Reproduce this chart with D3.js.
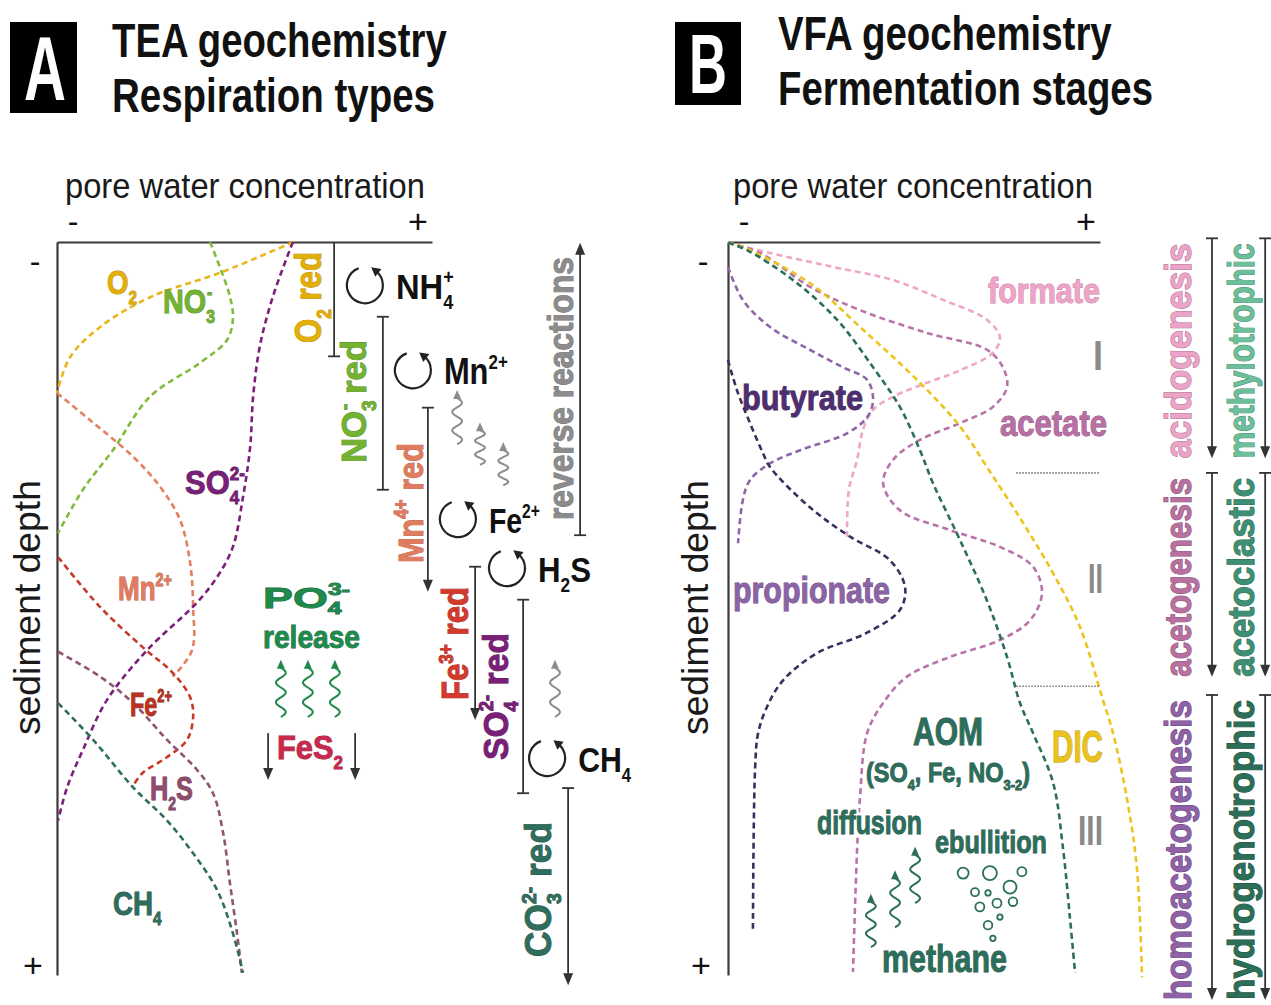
<!DOCTYPE html>
<html><head><meta charset="utf-8">
<script src="https://cdn.jsdelivr.net/npm/d3@7"></script>
<style>body{margin:0;background:#fff}svg{display:block}</style>
</head><body>
<script>
// ================= DATA =================
// Panel A: pore-water profiles, [concentration 0..100, depth 0..100]
const o2Profile  = [[63,0],[44,4.1],[25,7.5],[11.5,11.6],[3.5,15.7],[0,20.6]];
const no3Profile = [[40.8,0],[46.1,7.4],[46.9,10.6],[45.3,13.4],[38.1,16.5],[24.8,21.1],[14.9,28.4],[6.9,33.8],[0.3,39.7]];
const mnProfile  = [[0,20.6],[8.8,24.3],[20.3,29.3],[27.5,33.4],[32.8,37.9],[35.5,43.8],[36.3,49.8],[36,55.7],[30.9,59.3]];
const feProfile  = [[0.3,43],[11.5,49.8],[22.9,55.3],[30.9,58.8],[35.5,62.1],[36.3,64.8],[34.7,67.9],[29.3,70.3],[22.9,72.4],[20,74.4]];
const so4Profile = [[62.9,0],[57.6,7.4],[54.1,14.2],[52.3,21.1],[51.5,28],[49.6,34.8],[46.9,41.6],[42.7,45.7],[37.3,49.2],[24,55.7],[13.3,62.5],[6.9,69.3],[2.7,74.4],[0.3,78.9]];
const h2sProfile = [[0.3,55.9],[11.5,59.3],[20.3,62.9],[29.3,67.9],[37.3,72],[41.6,75.2],[44.3,80.6],[46.1,87.4],[48,94.3],[49.3,99.7]];
const ch4Profile = [[0.3,62.9],[9.6,67.9],[20.3,74.4],[29.3,78.9],[36.3,83.4],[42.7,88.4],[46.9,94.3],[49.6,99.7]];

// Panel A: respiration zones (x in concentration units, depth extents)
const zoneNames  = ["O2 red","NO3- red","Mn4+ red","Fe3+ red","SO42- red","CO32- red"];
const zoneConc   = [73.9, 86.9, 98.9, 111.5, 124.3, 136.3];
const zoneTop    = [0, 10.2, 22.6, 44.3, 48.8, 74.5];
const zoneBottom = [15.6, 33.8, 47.7, 65.2, 75.2, 101.4];
const zoneEnd    = ["cap","cap","arrow","arrow","cap","arrow"];
const reverseConc = 139.5, reverseTop = 0.1, reverseBottom = 40;

// Panel A: cycling products
const cycleNames = ["NH4+","Mn2+","Fe2+","H2S","CH4"];
const cycleConc  = [82.1, 94.9, 106.9, 120, 130.7];
const cycleDepth = [5.9, 17.5, 37.8, 44.5, 70.4];

// Panel A: upward fluxes (squiggles) [conc, depth bottom, depth top]
const greyFluxA  = [[106.7,27.6,20.2],[112.8,30.4,24.6],[119,33.2,27.3],[132.8,64.8,57]];
const greenFluxA = [[59.7,64.8,57],[66.9,64.8,57],[74.1,64.8,57]];
const fesArrowConc = [56.3, 79.5], fesArrowDepth = [67, 73.4];

// Panel B: VFA profiles
const formateProfile = [[0,0.1],[11.3,1.5],[28.2,3.4],[44.4,5.2],[57.8,7.9],[69.6,10.6],[73.1,13],[71.2,15.1],[62.4,17.5],[53.5,19.2],[44.4,21.1],[39,22.9],[36.3,25.6],[34.7,29.7],[32.5,33.8],[32,40.2]];
const acetateProfile = [[0,0.1],[8.6,1.5],[22,6.1],[35.5,9.3],[53.5,12.4],[69.6,14.7],[73.9,17.1],[75,19.8],[71.2,22.5],[62.4,24.7],[51.6,27],[44.4,29.7],[41.7,32.9],[46.2,36.6],[59.7,39.3],[73.1,41.6],[82,44.3],[84.4,47.9],[81.2,51.6],[73.1,54.3],[59.7,56.6],[48.1,59.3],[41.7,62.9],[37.4,67],[35.5,75.7],[34.7,82.9],[33.6,99.6]];
const dicProfile = [[0,0.1],[4,0.7],[22,5.6],[35.5,11.6],[51.6,19.2],[62.4,25.2],[69.6,30.7],[79.3,38.3],[87.4,45.2],[94.6,52.5],[100.8,62.5],[103.5,67],[107.3,76.1],[109.9,85.3],[111.3,100.3]];
const methaneProfile = [[0,0.1],[5.1,1.1],[17.5,5.2],[29.3,10.6],[39,17.1],[46.2,22.5],[51.6,28.4],[55.1,32.9],[62.4,40.7],[69.6,48.9],[75,56.6],[78.5,62.9],[82,67],[87.4,73.8],[90.1,82.9],[91.9,92.1],[93.3,99.7]];
const propionateProfile = [[0,3.4],[4,7.9],[11.3,11.6],[22,14.7],[30.9,17.1],[37.4,18.8],[39,21.6],[37.4,23.9],[32,26.1],[19.4,28.4],[11.3,30.2],[5.9,32.5],[4,35.2],[2.7,41.1]];
const butyrateProfile = [[0,16.1],[2.4,20.2],[5.9,24.7],[9.4,28.8],[11.3,30.7],[22,36.2],[32.8,40.2],[43.5,43.4],[47.6,47.1],[46.2,50.2],[37.4,53.3],[23.9,56.1],[14.8,59.8],[10.5,63.4],[8.1,67],[7.3,71.6],[6.7,93.9]];

// Panel B: stages
const stageNumerals = ["I","II","III"];
const stageBounds = [[-0.5,29.5],[31.5,59.3],[61.8,103.4]];
const stageSeparators = [31.5, 60.6];
const fermentationStages = ["acidogenesis","acetogenesis","homoacetogenesis"];
const methanogenesisTypes = ["methylotrophic","acetoclastic","hydrogenotrophic"];
const stageArrowConc = [130.1, 144.4];

// Panel B: methane transport
const methaneFlux = [[38.4,96.2,88.9],[44.9,93.5,85.7],[50.3,90.2,82.5]];
const bubbleConc  = [63.2,70.4,79,75.8,66.4,69.9,67.7,72.3,76.6,73.1,69.9,71.2];
const bubbleDepth = [86.1,86.1,85.9,88,88.7,88.8,90.7,90.2,90,92.1,93.2,95];
const bubbleSize  = [5.5,7,4.5,6.5,4,2.7,4.5,4.5,4.3,2.7,4.3,2.7];

// Tick labels & titles
const concTicks = ["-","+"];
const depthTicks = ["-","+"];
const titlesA = ["TEA geochemistry","Respiration types"];
const titlesB = ["VFA geochemistry","Fermentation stages"];

// ================= DRAW =================
const W = 1271, H = 1005;
const svg = d3.select("body").append("svg").attr("width", W).attr("height", H);
const FONT = "'Liberation Sans', Arial, sans-serif";

const xA = d3.scaleLinear([0,100],[57,432]);
const yA = d3.scaleLinear([0,100],[242,975]);
const xB = d3.scaleLinear([0,100],[728,1100]);
const yB = yA.copy();

function label(parent, o) {
  const g = parent.append("g").attr("transform", `translate(${o.x},${o.y}) rotate(${o.rot||0})`);
  const inner = g.append("g");
  const make = (halo) => {
    const t = inner.append("text")
      .attr("font-family", FONT)
      .attr("font-weight", o.weight || "bold")
      .attr("font-size", o.size)
      .attr("fill", halo ? "#fff" : (o.fill || "#111"));
    if (halo) t.attr("stroke", "#fff").attr("stroke-width", 7).attr("stroke-linejoin","round");
    else if (o.stroke) t.attr("stroke", o.stroke).attr("stroke-width", o.sw || 0.9).attr("paint-order", "stroke");
    let shift = 0;
    o.parts.forEach(p => {
      const arr = typeof p === "string" ? [p] : p;
      const [s, mode, dx] = arr;
      const ts = t.append("tspan").text(s);
      let target = 0;
      if (mode === "sub") { target = o.size * (o.subShift || 0.28); ts.attr("font-size", o.size * 0.55); }
      else if (mode === "sup") { target = -o.size * 0.42; ts.attr("font-size", o.size * 0.55); }
      ts.attr("dy", target - shift); shift = target;
      if (dx) ts.attr("dx", dx * o.size);
    });
    return t;
  };
  if (o.halo) make(true);
  const t = make(false);
  const bb = t.node().getBBox();
  const k = o.w ? o.w / bb.width : 1;
  const ax = o.anchor === "middle" ? bb.x + bb.width/2 : o.anchor === "end" ? bb.x + bb.width : bb.x;
  inner.attr("transform", `scale(${k},1) translate(${-ax},0)`);
  return g;
}

function profile(g, data, xs, ys, color) {
  g.append("path")
    .attr("d", d3.line().x(d => xs(d[0])).y(d => ys(d[1])).curve(d3.curveCatmullRom.alpha(0.5))(data))
    .attr("fill","none").attr("stroke",color).attr("stroke-width",2.6)
    .attr("stroke-dasharray","6,4");
}

function arrowHead(g, x, y, dir, color, size) {
  const s = size || 1;
  const dy = dir === "down" ? -1 : 1;
  g.append("path")
    .attr("d", `M${x},${y} L${x-5*s},${y+dy*12*s} L${x+5*s},${y+dy*12*s} Z`)
    .attr("fill", color || "#222");
}

function bar(g, x, y0, y1, topEnd, botEnd) {
  const col = "#333";
  g.append("line").attr("x1",x).attr("x2",x)
    .attr("y1", topEnd === "arrow" ? y0 + 8 : y0)
    .attr("y2", botEnd === "arrow" ? y1 - 8 : y1)
    .attr("stroke",col).attr("stroke-width",1.8);
  if (topEnd === "cap") g.append("line").attr("x1",x-6).attr("x2",x+6).attr("y1",y0).attr("y2",y0).attr("stroke",col).attr("stroke-width",1.8);
  if (botEnd === "cap") g.append("line").attr("x1",x-6).attr("x2",x+6).attr("y1",y1).attr("y2",y1).attr("stroke",col).attr("stroke-width",1.8);
  if (topEnd === "arrow") arrowHead(g, x, y0, "up", col);
  if (botEnd === "arrow") arrowHead(g, x, y1, "down", col);
}

function cycleIcon(g, cx, cy, r) {
  const a0 = -110 * Math.PI/180, a1 = -52 * Math.PI/180;
  const p0 = [cx + r*Math.cos(a0), cy + r*Math.sin(a0)];
  const p1 = [cx + r*Math.cos(a1), cy + r*Math.sin(a1)];
  g.append("path").attr("d", `M${p0[0]},${p0[1]} A${r},${r} 0 1 0 ${p1[0]},${p1[1]}`)
    .attr("fill","none").attr("stroke","#222").attr("stroke-width",2.2);
  const u = [Math.sin(a1), -Math.cos(a1)];
  const n = [-u[1], u[0]];
  const tip = [p1[0] + u[0]*6, p1[1] + u[1]*6];
  const b1 = [p1[0] - u[0]*3 + n[0]*5, p1[1] - u[1]*3 + n[1]*5];
  const b2 = [p1[0] - u[0]*3 - n[0]*5, p1[1] - u[1]*3 - n[1]*5];
  g.append("path").attr("d", `M${tip} L${b1} L${b2} Z`).attr("fill","#222");
}

function squiggle(g, x, yBot, yTop, color) {
  const L = yBot - yTop - 8, amp = 5, periods = 2.5, n = 50;
  const pts = d3.range(n + 1).map(i => {
    const t = i / n;
    return [x + amp * Math.sin(t * periods * 2 * Math.PI), yBot - t * L];
  });
  g.append("path").attr("d", d3.line().curve(d3.curveBasis)(pts))
    .attr("fill","none").attr("stroke",color).attr("stroke-width",2);
  g.append("path").attr("d", `M${x},${yTop} L${x-4},${yTop+9} L${x+4},${yTop+9} Z`).attr("fill",color);
}

// ---------- Titles ----------
const gT = svg.append("g");
gT.append("rect").attr("x",10).attr("y",22).attr("width",67).attr("height",91).attr("fill","#000");
label(gT, {x:45, y:100, w:42, size:90, fill:"#fff", anchor:"middle", parts:["A"]});
label(gT, {x:112, y:57, w:335, size:48, parts:[titlesA[0]]});
label(gT, {x:112, y:112, w:323, size:48, parts:[titlesA[1]]});
gT.append("rect").attr("x",675).attr("y",22).attr("width",66).attr("height",83).attr("fill","#000");
label(gT, {x:708, y:93, w:38, size:84, fill:"#fff", anchor:"middle", parts:["B"]});
label(gT, {x:778, y:50, w:334, size:48, parts:[titlesB[0]]});
label(gT, {x:778, y:105, w:375, size:48, parts:[titlesB[1]]});

// ---------- Axes ----------
function axes(xs, ys, txtLeft, g, textOffset) {
  const top = g.append("g").attr("transform", `translate(0,${ys(0)})`)
    .call(d3.axisTop(xs).tickValues([]).tickSizeOuter(0));
  const left = g.append("g").attr("transform", `translate(${xs(0)},0)`)
    .call(d3.axisLeft(ys).tickValues([]).tickSizeOuter(0));
  [top, left].forEach(a => a.select(".domain").attr("stroke","#3a3a3a").attr("stroke-width",2.2));
  label(g, {x: xs(0) + textOffset, y:198, w:360, size:35, weight:"normal", fill:"#1a1a1a", parts:["pore water concentration"]});
  label(g, {x: xs(0) + 16, y:232, size:32, weight:"normal", anchor:"middle", parts:[concTicks[0]]});
  label(g, {x: xs(100) - 14, y:233, size:34, weight:"normal", anchor:"middle", parts:[concTicks[1]]});
  label(g, {x: txtLeft + 2, y:272, size:32, weight:"normal", anchor:"middle", parts:[depthTicks[0]]});
  label(g, {x: txtLeft, y:977, size:34, weight:"normal", anchor:"middle", parts:[depthTicks[1]]});
  label(g, {x: txtLeft + 7, y:735, w:255, size:36, rot:-90, weight:"normal", fill:"#1a1a1a", parts:["sediment depth"]});
}

// ---------- Panel A ----------
const gA = svg.append("g");
axes(xA, yA, 33, gA, 8);
profile(gA, o2Profile, xA, yA, "#e9b51c");
profile(gA, no3Profile, xA, yA, "#82bb3c");
profile(gA, mnProfile, xA, yA, "#e3805f");
profile(gA, feProfile, xA, yA, "#c63a2a");
profile(gA, so4Profile, xA, yA, "#7b1f79");
profile(gA, h2sProfile, xA, yA, "#8f5373");
profile(gA, ch4Profile, xA, yA, "#2f6e5c");

label(gA, {x:107, y:294, w:30, size:34, fill:"#e2ae08", stroke:"#b88a00", parts:["O",["2","sub"]]});
label(gA, {x:163, y:313, w:52, size:34, fill:"#74b232", stroke:"#4f8a1c", parts:["NO",["3","sub"],["-","sup",-0.28]]});
label(gA, {x:185, y:494, w:60, size:34, fill:"#7a1f78", stroke:"#5a1058", parts:["SO",["4","sub"],["2-","sup",-0.3]]});
label(gA, {x:118, y:600, w:54, size:34, fill:"#e07c60", stroke:"#b85a40", parts:["Mn",["2+","sup"]]});
label(gA, {x:130, y:716, w:42, size:34, fill:"#b8321f", stroke:"#8e2010", parts:["Fe",["2+","sup"]]});
label(gA, {x:150, y:800, w:43, size:34, fill:"#8d4d6c", stroke:"#6a3050", parts:["H",["2","sub"],"S"]});
label(gA, {x:113, y:915, w:49, size:34, fill:"#2f6e5c", stroke:"#1e5040", parts:["CH",["4","sub"]]});

// PO4 release / FeS2
label(gA, {x:263, y:608, w:87, size:30, subShift:0.2, fill:"#1f8a4c", stroke:"#12663a", parts:["PO",["4","sub"],["3-","sup",-0.3]]});
label(gA, {x:263, y:648, w:97, size:32, fill:"#1f8a4c", stroke:"#12663a", parts:["release"]});
greenFluxA.forEach(f => squiggle(gA, xA(f[0]), yA(f[1]), yA(f[2]), "#1f8a4c"));
label(gA, {x:277, y:759, w:66, size:34, fill:"#c72a4e", stroke:"#9a1a38", parts:["FeS",["2","sub"]]});
fesArrowConc.forEach(c => bar(gA, xA(c), yA(fesArrowDepth[0]), yA(fesArrowDepth[1]), "none", "arrow"));

// Zones
const zoneParts = [
  ["O",["2","sub"]," red"],
  ["NO",["3","sub"],["-","sup",-0.28]," red"],
  ["Mn",["4+","sup"]," red"],
  ["Fe",["3+","sup"]," red"],
  ["SO",["4","sub"],["2-","sup",-0.3]," red"],
  ["CO",["3","sub"],["2-","sup",-0.3]," red"]
];
const zoneFill = ["#e2ae08","#74b232","#e07c60","#d43a2c","#7a1f78","#2f6e5c"];
const zoneStroke = ["#b88a00","#4f8a1c","#b85a40","#a02418","#5a1058","#1e5040"];
const zoneLabelX = [321, 366, 423, 468, 508, 551];
const zoneLabelY = [343, 463, 563, 700, 760, 957];
const zoneLabelW = [91, 123, 120, 113, 127, 135];
zoneNames.forEach((nm, i) => {
  bar(gA, xA(zoneConc[i]), yA(zoneTop[i]), yA(zoneBottom[i]), i === 0 ? "none" : "cap", zoneEnd[i]);
  label(gA, {x:zoneLabelX[i], y:zoneLabelY[i], w:zoneLabelW[i], size:36, rot:-90,
    fill:zoneFill[i], stroke:zoneStroke[i], parts:zoneParts[i]});
});
bar(gA, xA(reverseConc), yA(reverseTop), yA(reverseBottom), "arrow", "cap");
label(gA, {x:573, y:520, w:263, size:35, rot:-90, fill:"#8c8c8c", stroke:"#6e6e6e", parts:["reverse reactions"]});

// Cycles
const cycleParts = [["NH",["4","sub"],["+","sup",-0.3]],["Mn",["2+","sup"]],["Fe",["2+","sup"]],["H",["2","sub"],"S"],["CH",["4","sub"]]];
const cycleW = [58, 64, 51, 53, 53];
cycleNames.forEach((nm, i) => {
  const cx = xA(cycleConc[i]), cy = yA(cycleDepth[i]);
  cycleIcon(gA, cx, cy, 18);
  label(gA, {x:cx + 31, y:cy + 14, w:cycleW[i], size:36, fill:"#111", parts:cycleParts[i]});
});
greyFluxA.forEach(f => squiggle(gA, xA(f[0]), yA(f[1]), yA(f[2]), "#8c8c8c"));

// ---------- Panel B ----------
const gB = svg.append("g");
axes(xB, yB, 701, gB, 5);
profile(gB, formateProfile, xB, yB, "#eea7c9");
profile(gB, acetateProfile, xB, yB, "#b874a8");
profile(gB, dicProfile, xB, yB, "#ebc41e");
profile(gB, methaneProfile, xB, yB, "#2c6e5c");
profile(gB, propionateProfile, xB, yB, "#8d66a8");
profile(gB, butyrateProfile, xB, yB, "#3b2e5e");

label(gB, {x:988, y:303, w:112, size:36, fill:"#eda4c6", stroke:"#c47aa0", parts:["formate"]});
label(gB, {x:1000, y:436, w:107, size:36, fill:"#b870a4", stroke:"#8a4c7e", parts:["acetate"]});
label(gB, {x:742, y:410, w:121, size:36, fill:"#4e2e70", stroke:"#341a52", parts:["butyrate"]});
label(gB, {x:733, y:603, w:157, size:36, fill:"#8c64a4", stroke:"#6a4484", parts:["propionate"]});
label(gB, {x:913, y:745, w:70, size:38, fill:"#2c6e5c", stroke:"#1e5040", parts:["AOM"]});
label(gB, {x:866, y:782, w:164, size:27, fill:"#2c6e5c", stroke:"#1e5040", parts:["(SO",["4","sub"],", Fe, NO",["3-2","sub"],")"]});
label(gB, {x:1052, y:762, w:51, size:44, fill:"#e9c21e", stroke:"#b89000", parts:["DIC"]});
label(gB, {x:817, y:834, w:105, size:33, fill:"#2c6e5c", stroke:"#1e5040", halo:true, parts:["diffusion"]});
label(gB, {x:935, y:853, w:112, size:32, fill:"#2c6e5c", stroke:"#1e5040", halo:true, parts:["ebullition"]});
label(gB, {x:882, y:972, w:125, size:38, fill:"#2c6e5c", stroke:"#1e5040", parts:["methane"]});
methaneFlux.forEach(f => squiggle(gB, xB(f[0]), yB(f[1]), yB(f[2]), "#2c6e5c"));
bubbleConc.forEach((c, i) => {
  gB.append("circle").attr("cx", xB(c)).attr("cy", yB(bubbleDepth[i])).attr("r", bubbleSize[i])
    .attr("fill","none").attr("stroke","#2c6e5c").attr("stroke-width",1.8);
});

// stage separators & numerals
stageSeparators.forEach(d => {
  gB.append("line").attr("x1", xB(77.5)).attr("x2", xB(100)).attr("y1", yB(d)).attr("y2", yB(d))
    .attr("stroke","#777").attr("stroke-width",1.6).attr("stroke-dasharray","1.5,1.5");
});
const numeralY = [370, 593, 845], numeralW = [10, 15, 25];
stageNumerals.forEach((s, i) => {
  label(gB, {x:1103, y:numeralY[i], w:numeralW[i], size:42, fill:"#8a8a8a", anchor:"end", parts:[s]});
});

// stage arrows & labels
const fermFill = ["#eba4c8","#b8709f","#8e62a4"], fermStroke = ["#b06e90","#864a78","#643c80"];
const methFill = ["#6cbf9a","#3f8f74","#2c6e58"], methStroke = ["#3f8a6a","#28684f","#1a4e3e"];
stageBounds.forEach((b, i) => {
  stageArrowConc.forEach(c => bar(gB, xB(c), yB(b[0]), yB(b[1]), "cap", "arrow"));
  const len = yB(b[1]) - yB(b[0]) - 5;
  label(gB, {x:1191, y:yB(b[1]), w:len, size:37, rot:-90, fill:fermFill[i], stroke:fermStroke[i], sw:1.1, parts:[fermentationStages[i]]});
  label(gB, {x:1254, y:yB(b[1]), w:len, size:37, rot:-90, fill:methFill[i], stroke:methStroke[i], sw:1.1, parts:[methanogenesisTypes[i]]});
});
</script>
</body></html>
